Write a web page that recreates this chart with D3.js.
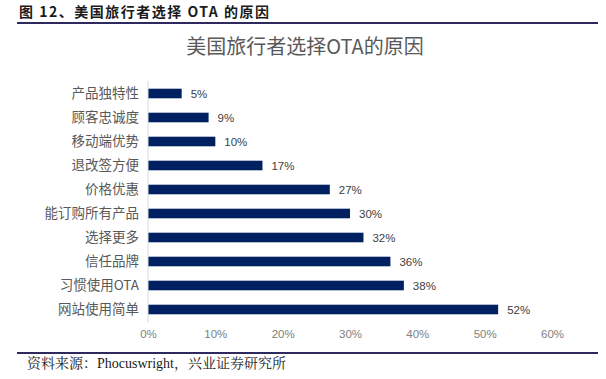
<!DOCTYPE html>
<html><head><meta charset="utf-8">
<script src="https://cdn.jsdelivr.net/npm/d3@7"></script>
<style>body{margin:0;background:#fff}svg{display:block}</style>
</head><body><svg id="c" width="606" height="379"></svg>
<script>
const categories = ["产品独特性","顾客忠诚度","移动端优势","退改签方便","价格优惠","能订购所有产品","选择更多","信任品牌","习惯使用OTA","网站使用简单"];
const values = [5,9,10,17,27,30,32,36,38,52];
const ticks = [0,10,20,30,40,50,60];
const headerText = "图 12、美国旅行者选择 OTA 的原因";
const chartTitle = "美国旅行者选择OTA的原因";
const sourceText = "资料来源：Phocuswright，兴业证券研究所";

const svg = d3.select("#c");
const cjk = "'Noto Sans CJK SC','Noto Sans',sans-serif";
const x = d3.scaleLinear().domain([0,60]).range([148,552]);
const y = d3.scaleBand().domain(categories).range([81.5,321.5]).paddingInner(0.6).paddingOuter(0.3);

// header
svg.append("text").attr("x",19).attr("y",17).attr("font-family",cjk).attr("font-weight","bold")
  .attr("font-size",14).attr("letter-spacing",1.5).attr("fill","#1a1a1a").text(headerText);
svg.append("line").attr("x1",17).attr("x2",598).attr("y1",23).attr("y2",23).attr("stroke","#2e2a5e").attr("stroke-width",2);

// title
svg.append("text").attr("x",305).attr("y",54).attr("text-anchor","middle").attr("font-family",cjk)
  .attr("font-size",20).attr("fill","#595959").text(chartTitle);

// bars
svg.selectAll("rect.bar").data(values).join("rect").attr("class","bar")
  .attr("x",x(0)).attr("y",(d,i)=>y(categories[i])).attr("width",d=>x(d)-x(0)).attr("height",y.bandwidth())
  .attr("fill","#002060");

// axis line
svg.append("line").attr("x1",x(0)).attr("x2",x(0)).attr("y1",81).attr("y2",322).attr("stroke","#d9d9d9").attr("stroke-width",1);

// category labels
const yAxis = d3.axisLeft(y).tickSize(0).tickPadding(9);
const gy = svg.append("g").attr("transform",`translate(${x(0)},0)`).call(yAxis);
gy.select(".domain").remove();
gy.selectAll("text").attr("font-family",cjk).attr("font-size",13.5).attr("fill","#595959");

// value labels
svg.selectAll("text.val").data(values).join("text").attr("class","val")
  .attr("x",d=>x(d)+9).attr("y",(d,i)=>y(categories[i])+y.bandwidth()/2).attr("dy","0.35em")
  .attr("font-family","'Liberation Sans',Arial,sans-serif").attr("font-size",11.5).attr("fill","#404040")
  .text(d=>d+"%");

// x axis tick labels
const xAxis = d3.axisBottom(x).tickValues(ticks).tickSize(0).tickPadding(8).tickFormat(d=>d+"%");
const gx = svg.append("g").attr("transform","translate(0,322)").call(xAxis);
gx.select(".domain").remove();
gx.selectAll("text").attr("font-family","'Liberation Sans',Arial,sans-serif").attr("font-size",11.5).attr("fill","#808080");

// footer
svg.append("line").attr("x1",17).attr("x2",598).attr("y1",353).attr("y2",353).attr("stroke","#2e2a5e").attr("stroke-width",2);
svg.append("text").attr("x",27).attr("y",368).attr("font-family","'Liberation Serif','Noto Serif CJK SC','Noto Sans CJK SC',serif")
  .attr("font-size",14).attr("fill","#1a1a1a").text(sourceText);
</script></body></html>
